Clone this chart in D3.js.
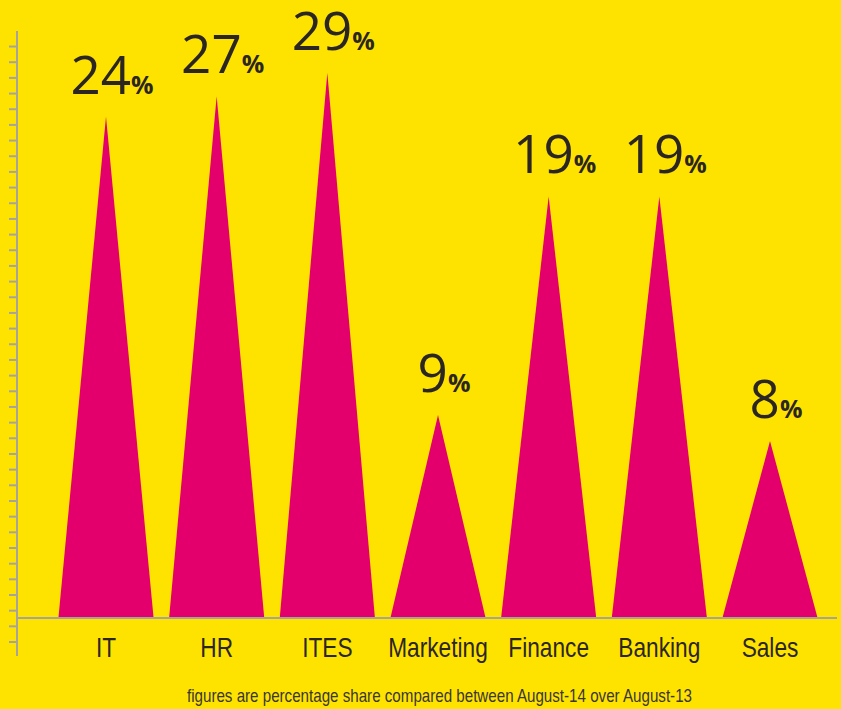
<!DOCTYPE html>
<html>
<head>
<meta charset="utf-8">
<script src="https://cdn.jsdelivr.net/npm/d3@7"></script>
<style>
  html, body { margin: 0; padding: 0; background: #FFE300; }
  svg { display: block; }
</style>
</head>
<body>
<div id="root"></div>
<script>
// categories and the share printed above each peak
const categories = ["IT", "HR", "ITES", "Marketing", "Finance", "Banking", "Sales"];
const shares = [24, 27, 29, 9, 19, 19, 8];
// apex height of each triangle in tick steps
const peakLevels = [32.0, 33.3, 34.8, 12.95, 26.9, 26.9, 11.3];
const note = "figures are percentage share compared between August-14 over August-13";

const W = 841, H = 709;
const COLORS = {
  bg: "#FFE300",
  peak: "#E3006D",
  axis: "#A6A39B",
  text: "#2B2622"
};

const svg = d3.select("#root")
  .append("svg")
  .attr("width", W)
  .attr("height", H)
  .style("background", COLORS.bg);

const baseY = 618;
const step = 15.67;

const x = d3.scaleBand()
  .domain(categories)
  .range([50.67, 825.33])
  .paddingInner(0.14)
  .paddingOuter(0.07);

const y = d3.scaleLinear()
  .domain([0, 35])
  .range([baseY, baseY - 35 * step]);

// left tick axis (no labels)
const yAxis = d3.axisLeft(y)
  .tickValues(d3.range(-1.5, 37, 1))
  .tickSize(8)
  .tickFormat("");

const gy = svg.append("g")
  .attr("transform", "translate(17,0)")
  .call(yAxis);
gy.select(".domain").remove();
gy.selectAll(".tick line").attr("stroke", COLORS.axis).attr("stroke-width", 2);
gy.append("line")
  .attr("x1", 0).attr("x2", 0)
  .attr("y1", y(37.46)).attr("y2", y(-2.43))
  .attr("stroke", COLORS.axis)
  .attr("stroke-width", 2);

// triangles
svg.append("g")
  .selectAll("path")
  .data(categories)
  .join("path")
  .attr("d", (c, i) => {
    const x0 = x(c), x1 = x(c) + x.bandwidth(), xm = x(c) + x.bandwidth() / 2;
    return `M${x0},${y(0)}L${xm},${y(peakLevels[i])}L${x1},${y(0)}Z`;
  })
  .attr("fill", COLORS.peak);

// baseline
svg.append("line")
  .attr("x1", 17).attr("x2", 837)
  .attr("y1", y(0)).attr("y2", y(0))
  .attr("stroke", COLORS.axis)
  .attr("stroke-width", 2);

// value labels
const labels = svg.append("g")
  .selectAll("text")
  .data(categories)
  .join("text")
  .attr("x", c => x(c) + x.bandwidth() / 2 + 6)
  .attr("y", (c, i) => y(peakLevels[i]) - 23)
  .attr("text-anchor", "middle")
  .attr("fill", COLORS.text)
  .style("font-family", "'Open Sans', 'Noto Sans', sans-serif");

labels.append("tspan")
  .text((c, i) => shares[i])
  .style("font-size", "53px")
  .style("font-weight", 370);
labels.append("tspan")
  .text("%")
  .style("font-size", "25px")
  .style("font-weight", 700);

// category axis
const xAxis = d3.axisBottom(x).tickSize(0).tickPadding(0);
const gx = svg.append("g")
  .attr("transform", `translate(0, ${y(0) + 39})`)
  .call(xAxis);
gx.select(".domain").remove();
gx.selectAll(".tick text")
  .attr("dy", 0)
  .attr("transform", "scale(0.84,1)")
  .attr("fill", COLORS.text)
  .style("font-family", "'Liberation Sans', Arial, sans-serif")
  .style("font-size", "27px");

// footnote
svg.append("text")
  .text(note)
  .attr("x", 187)
  .attr("y", 702)
  .attr("textLength", 505)
  .attr("lengthAdjust", "spacingAndGlyphs")
  .attr("fill", "#3A3631")
  .style("font-family", "'Liberation Sans', sans-serif")
  .style("font-size", "19px");
</script>
</body>
</html>
